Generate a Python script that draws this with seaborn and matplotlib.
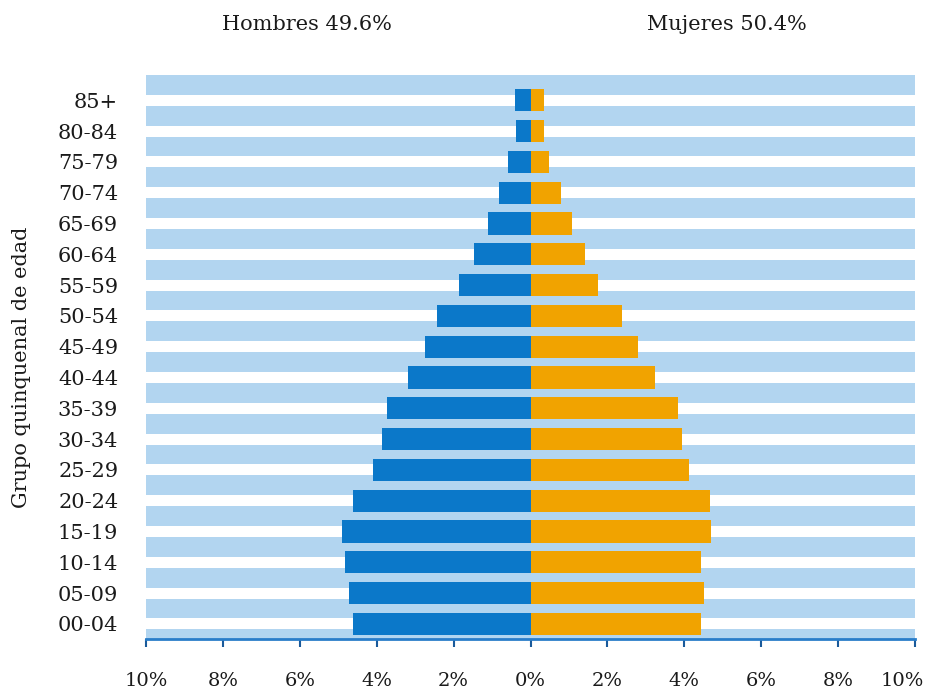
import pandas as pd
import numpy as np
import seaborn as sns
import matplotlib.pyplot as plt
from matplotlib.transforms import ScaledTranslation

# Data (percent of total population), top group first
grupos = ['85+', '80-84', '75-79', '70-74', '65-69', '60-64', '55-59', '50-54', '45-49',
          '40-44', '35-39', '30-34', '25-29', '20-24', '15-19', '10-14', '05-09', '00-04']
hombres = [0.40, 0.39, 0.58, 0.82, 1.10, 1.46, 1.85, 2.44, 2.74,
           3.18, 3.74, 3.85, 4.10, 4.62, 4.91, 4.82, 4.72, 4.62]
mujeres = [0.35, 0.35, 0.48, 0.79, 1.07, 1.43, 1.76, 2.37, 2.79,
           3.24, 3.83, 3.95, 4.12, 4.67, 4.69, 4.43, 4.51, 4.43]
xticks = [-10, -8, -6, -4, -2, 0, 2, 4, 6, 8, 10]
titulo_h = 'Hombres 49.6%'
titulo_m = 'Mujeres 50.4%'

# Long format, men to the left
df = pd.DataFrame({
    'grupo': grupos + grupos,
    'pct': [-v for v in hombres] + mujeres,
    'sexo': ['Hombres'] * len(grupos) + ['Mujeres'] * len(grupos),
})

sns.set_style('white')
plt.rcParams['font.family'] = ['DejaVu Serif']

fig = plt.figure(figsize=(9.35, 6.94), dpi=100)
ax = fig.add_axes([146 / 935, 1 - 639 / 694, 769 / 935, 564 / 694])

# Light blue background stripes between the bars
for i in range(-1, len(grupos)):
    ax.axhspan(i + 0.18, i + 0.82, color='#b2d5f0', lw=0, zorder=0)

sns.barplot(data=df, x='pct', y='grupo', hue='sexo', order=grupos,
            palette={'Hombres': '#0b78c9', 'Mujeres': '#f1a300'},
            dodge=False, width=0.72, saturation=1, legend=False, ax=ax,
            linewidth=0, edgecolor='none', zorder=2)

ax.set_xlim(-10, 10)
ax.set_ylim(len(grupos) - 0.51, -0.82)
ax.set_xticks(xticks)
ax.set_xticklabels([f'{abs(t)}%' for t in xticks])
ax.set_xlabel('')
ax.set_ylabel('')

for s in ['top', 'right', 'left']:
    ax.spines[s].set_visible(False)
ax.spines['bottom'].set_color('#2a7dc9')
ax.spines['bottom'].set_linewidth(2)

ax.tick_params(axis='x', bottom=True, direction='out', length=6, width=1.5,
               color='#1a5a9a', pad=18, labelsize=14, labelcolor='#1a1a1a')
ax.tick_params(axis='y', left=False, length=0, pad=20, labelsize=15,
               labelcolor='#1a1a1a')

# last label sits a little left of its tick so it stays inside the figure
last = ax.get_xticklabels()[-1]
last.set_transform(last.get_transform() + ScaledTranslation(-9 / 72, 0, fig.dpi_scale_trans))

fig.text(22 / 935, 1 - 367 / 694, 'Grupo quinquenal de edad', rotation=90,
         ha='center', va='center', fontsize=15, color='#1a1a1a')
fig.text(307 / 935, 1 - 25 / 694, titulo_h, ha='center', va='center',
         fontsize=15, color='#1a1a1a')
fig.text(727 / 935, 1 - 25 / 694, titulo_m, ha='center', va='center',
         fontsize=15, color='#1a1a1a')

fig.savefig('out.png', dpi=100)
